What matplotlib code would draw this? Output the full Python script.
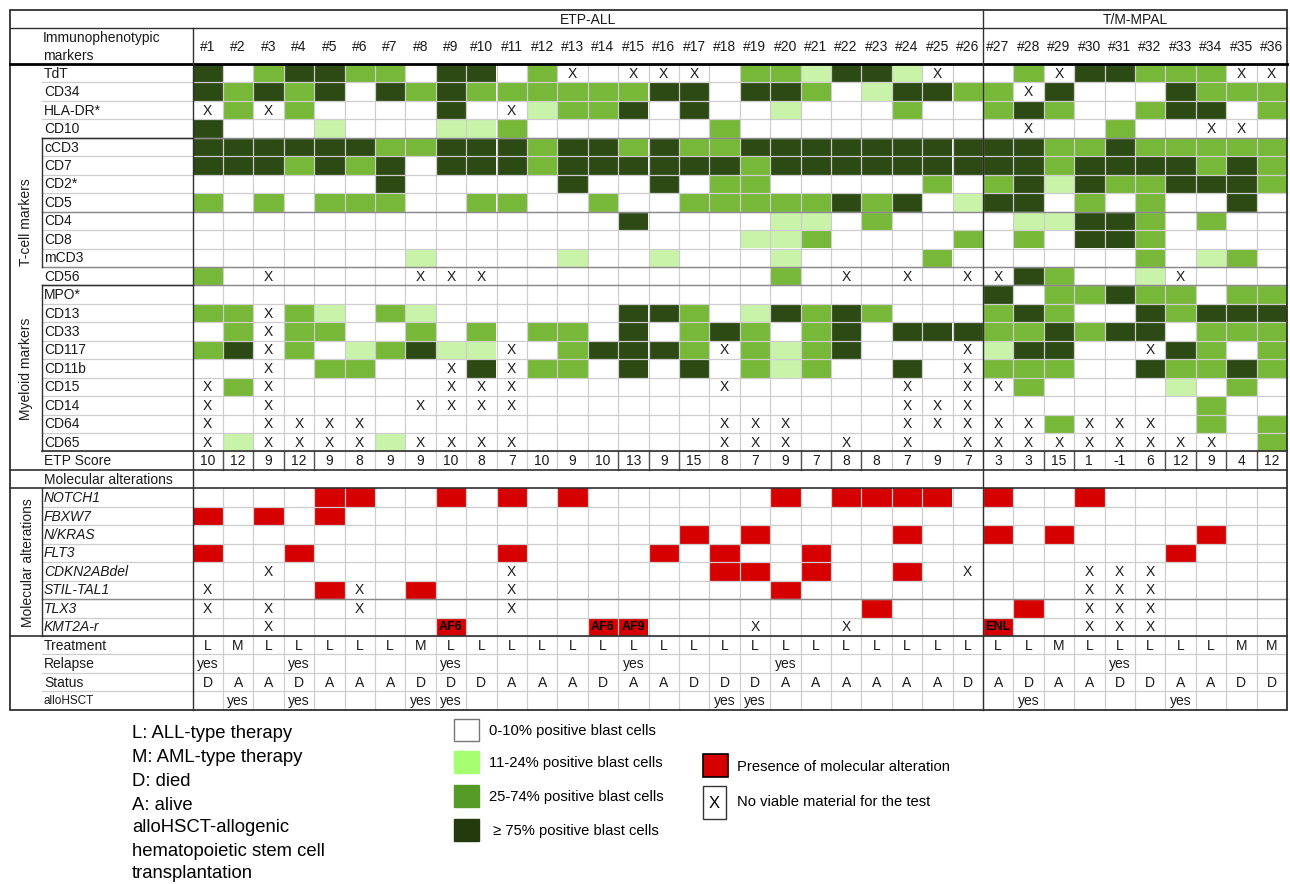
import matplotlib
matplotlib.use("Agg")
import matplotlib.pyplot as plt
from matplotlib.patches import Rectangle

# ------------------------------------------------------------------ data
patients = [f"#{i}" for i in range(1, 37)]
group_names = ["ETP-ALL", "T/M-MPAL"]
group_sizes = [26, 10]

marker_names = ["TdT", "CD34", "HLA-DR*", "CD10", "cCD3", "CD7", "CD2*", "CD5",
                "CD4", "CD8", "mCD3", "CD56", "MPO*", "CD13", "CD33", "CD117",
                "CD11b", "CD15", "CD14", "CD64", "CD65"]
# 0: 0-10%, 1: 11-24%, 2: 25-74%, 3: >=75% positive blast cells, X: no viable material
marker_levels = [
    "3023322033" "02X0XXX022" "1331X002X3" "3222XX",  # TdT
    "3232303232" "2222233033" "2013322X30" "003222",  # CD34
    "X2X2000030" "X122303001" "0002002320" "023302",  # HLA-DR*
    "3000100011" "2000000200" "0000000X00" "200XX0",  # CD10
    "3333332233" "3233232233" "3333333322" "322222",  # cCD3
    "3332323033" "3233333323" "3333333323" "333232",  # CD7
    "0000003000" "0030030220" "0000202313" "223332",  # CD2*
    "2020222002" "2002002222" "2323013302" "020030",  # CD5
    "0000000000" "0000300001" "1020000113" "320200",  # CD4
    "0000000000" "0000000011" "2000020203" "320000",  # CD8
    "0000000100" "0010010001" "0000200000" "020120",  # mCD3
    "20X0000XXX" "0000000002" "0X0X0XX320" "01X000",  # CD56
    "0000000000" "0000000000" "0000003022" "322022",  # MPO*
    "22X2102100" "0000332013" "2320002320" "032333",  # CD13
    "02X2200202" "0220302320" "2303332232" "330222",  # CD33
    "23X2012311" "X023332X21" "23000X1330" "0X3202",  # CD117
    "00X02200X3" "X220303021" "20030X2220" "032232",  # CD11b
    "X2X00000XX" "X000000X00" "000X0XX200" "001020",  # CD15
    "X0X0000XXX" "X000000000" "000XXX0000" "000200",  # CD14
    "X0XXXX0000" "0000000XXX" "000XXXXX2X" "XX0202",  # CD64
    "X1XXXX1XXX" "X000000XXX" "0X0X0XXXXX" "XXXX02",  # CD65
]
etp_score = [10, 12, 9, 12, 9, 8, 9, 9, 10, 8, 7, 10, 9, 10, 13, 9, 15, 8,
             7, 9, 7, 8, 8, 7, 9, 7, 3, 3, 15, 1, -1, 6, 12, 9, 4, 12]

molecular_names = ["NOTCH1", "FBXW7", "N/KRAS", "FLT3", "CDKN2ABdel",
                   "STIL-TAL1", "TLX3"]
# 1: alteration present, X: no viable material
molecular_hits = [
    "0000110010" "1010000001" "0111101001" "000000",  # NOTCH1
    "1010100000" "0000000000" "0000000000" "000000",  # FBXW7
    "0000000000" "0000001010" "0001001010" "000100",  # N/KRAS
    "1001000000" "1000010100" "1000000000" "001000",  # FLT3
    "00X0000000" "X000000110" "10010X000X" "XX0000",  # CDKN2ABdel
    "X0001X0100" "X000000001" "000000000X" "XX0000",  # STIL-TAL1
    "X0X00X0000" "X000000000" "001000010X" "XX0000",  # TLX3
]
kmt2a_name = "KMT2A-r"
kmt2a_status = ["", "", "X", "", "", "", "", "", "AF6", "", "", "", "", "AF6",
                "AF9", "", "", "", "X", "", "", "X", "", "", "", "", "ENL", "",
                "", "X", "X", "X", "", "", "", ""]

clinical_names = ["Treatment", "Relapse", "Status", "alloHSCT"]
treatment = list("LMLLLLLM" + "L" * 20 + "M" + "L" * 5 + "MM")
relapse_cols = [1, 4, 9, 15, 20, 31]
status = list("DAADAAAD" "DDAAADAADD" "DAAAAAAD" "ADAADDAADD")
allohsct_cols = [2, 4, 8, 9, 18, 19, 28, 33]

abbrev_notes = ["L: ALL-type therapy", "M: AML-type therapy", "D: died",
                "A: alive", "alloHSCT-allogenic", "hematopoietic stem cell",
                "transplantation"]
level_labels = ["0-10% positive blast cells", "11-24% positive blast cells",
                "25-74% positive blast cells", " \u2265 75% positive blast cells"]
other_labels = ["Presence of molecular alteration",
                "No viable material for the test"]

# ------------------------------------------------------------------ style
FONT = ["Liberation Sans", "DejaVu Sans"]
plt.rcParams["font.family"] = FONT
cell_colors = {"0": "white", "1": "#c9f3a8", "2": "#78b838", "3": "#2d4a15"}
legend_colors = ["white", "#a6ff70", "#559a26", "#233a0e"]
RED = "#d70000"
GRID = "#cdcdcd"
DARK = "#303030"
LEG_FS = 10.6

X_LEFT, X_GROUP, X_DATA, CW = 10, 42, 192.5, 30.4
Y_TOP, Y_HDR, Y_BODY, RH = 10, 28, 64, 18.45
N = len(patients)
X_RIGHT = X_DATA + N * CW

n_mark = len(marker_names)
row_etp = n_mark
row_molhdr = n_mark + 1
row_mol0 = n_mark + 2
n_mol = len(molecular_names) + 1
row_clin0 = row_mol0 + n_mol
n_rows = row_clin0 + len(clinical_names)
Y_BOTTOM = Y_BODY + n_rows * RH


def cx(j):
    return X_DATA + j * CW


def ry(i):
    return Y_BODY + i * RH


fig = plt.figure(figsize=(12.9, 8.84), dpi=100)
ax = fig.add_axes([0, 0, 1, 1])
ax.set_xlim(0, 1290)
ax.set_ylim(884, 0)
ax.axis("off")

TXT = dict(fontsize=10, color="#1a1a1a")


def cell_text(i, j, s, **kw):
    d = dict(TXT)
    d.update(kw)
    ax.text(cx(j) + CW / 2, ry(i) + RH / 2 + 0.5, s, ha="center", va="center", **d)


# marker cells
for i, codes in enumerate(marker_levels):
    for j, c in enumerate(codes):
        if c == "X":
            cell_text(i, j, "X")
        elif c != "0":
            ax.add_patch(Rectangle((cx(j), ry(i)), CW, RH, facecolor=cell_colors[c],
                                   edgecolor="none", zorder=1))
# ETP score
for j, v in enumerate(etp_score):
    cell_text(row_etp, j, str(v))
# molecular cells
for k, codes in enumerate(molecular_hits):
    i = row_mol0 + k
    for j, c in enumerate(codes):
        if c == "X":
            cell_text(i, j, "X")
        elif c == "1":
            ax.add_patch(Rectangle((cx(j), ry(i)), CW, RH, facecolor=RED,
                                   edgecolor="none", zorder=1))
i_k = row_mol0 + len(molecular_names)
for j, s in enumerate(kmt2a_status):
    if s == "X":
        cell_text(i_k, j, "X")
    elif s:
        ax.add_patch(Rectangle((cx(j), ry(i_k)), CW, RH, facecolor=RED,
                               edgecolor="none", zorder=1))
        cell_text(i_k, j, s, fontsize=9, fontweight="bold", color="black", zorder=4)
# clinical rows
for j in range(N):
    cell_text(row_clin0, j, treatment[j])
    cell_text(row_clin0 + 2, j, status[j])
for c in relapse_cols:
    cell_text(row_clin0 + 1, c - 1, "yes")
for c in allohsct_cols:
    cell_text(row_clin0 + 3, c - 1, "yes")

# ------------------------------------------------------------------ grid
grid_rows = list(range(1, row_etp + 1)) + list(range(row_mol0 + 1, n_rows))
for i in grid_rows:
    ax.plot([X_GROUP, X_RIGHT], [ry(i), ry(i)], color=GRID, lw=0.9, zorder=2)
for j in range(1, N):
    ax.plot([cx(j), cx(j)], [ry(0), ry(row_etp + 1)], color=GRID, lw=0.9, zorder=2)
    ax.plot([cx(j), cx(j)], [ry(row_mol0), Y_BOTTOM], color=GRID, lw=0.9, zorder=2)
# medium separators
for i in [4, 8, 11, 12, row_mol0 + 6]:
    ax.plot([X_GROUP, X_RIGHT], [ry(i), ry(i)], color="#8a8a8a", lw=1.0, zorder=2.5)
# ETP score row dividers
for b in [1, 2, 3, 4, 14, 15, 16, 20, 21, 22, 28, 29, 32, 33, 34, 35]:
    ax.plot([cx(b), cx(b)], [ry(row_etp), ry(row_etp + 1)], color="#555555", lw=1.0, zorder=2.6)
# strong lines
ax.add_patch(Rectangle((X_LEFT, Y_TOP), X_RIGHT - X_LEFT, Y_BOTTOM - Y_TOP,
                       facecolor="none", edgecolor=DARK, lw=1.3, zorder=3))
ax.plot([X_LEFT, X_RIGHT], [Y_HDR, Y_HDR], color=DARK, lw=1.0, zorder=3)
ax.plot([X_LEFT, X_RIGHT], [Y_BODY, Y_BODY], color="black", lw=2.0, zorder=3)
ax.plot([X_DATA, X_DATA], [Y_HDR, Y_BOTTOM], color=DARK, lw=1.0, zorder=3)
xg = cx(group_sizes[0])
ax.plot([xg, xg], [Y_TOP, Y_BOTTOM], color=DARK, lw=1.0, zorder=3)
for i in [row_etp + 1, row_molhdr + 1, row_clin0]:
    ax.plot([X_LEFT, X_RIGHT], [ry(i), ry(i)], color=DARK, lw=1.2, zorder=3)
ax.plot([X_GROUP, X_RIGHT], [ry(row_etp), ry(row_etp)], color=DARK, lw=1.2, zorder=3)
ax.plot([X_GROUP, X_DATA], [ry(4), ry(4)], color=DARK, lw=1.0, zorder=3)
ax.plot([X_GROUP, X_DATA], [ry(12), ry(12)], color=DARK, lw=1.0, zorder=3)
for a, b in [(4, 11), (12, row_etp), (row_mol0, row_clin0)]:
    ax.plot([X_GROUP, X_GROUP], [ry(a), ry(b)], color=DARK, lw=1.0, zorder=3)

# ------------------------------------------------------------------ headers
x0 = X_DATA
for name, size in zip(group_names, group_sizes):
    ax.text(x0 + size * CW / 2, (Y_TOP + Y_HDR) / 2 + 0.5, name, ha="center",
            va="center", **TXT)
    x0 += size * CW
for j, p in enumerate(patients):
    ax.text(cx(j) + CW / 2, (Y_HDR + Y_BODY) / 2 + 1, p, ha="center", va="center", **TXT)
ax.text(X_GROUP + 1, 38, "Immunophenotypic", ha="left", va="center", **TXT)
ax.text(X_GROUP + 1, 55.5, "markers", ha="left", va="center", **TXT)

# row labels
for i, m in enumerate(marker_names):
    ax.text(X_GROUP + 2, ry(i) + RH / 2 + 0.5, m, ha="left", va="center", **TXT)
ax.text(X_GROUP + 2, ry(row_etp) + RH / 2 + 0.5, "ETP Score", ha="left", va="center", **TXT)
ax.text(X_GROUP + 2, ry(row_molhdr) + RH / 2 + 0.5, "Molecular alterations",
        ha="left", va="center", **TXT)
for k, m in enumerate(molecular_names + [kmt2a_name]):
    ax.text(X_GROUP + 2, ry(row_mol0 + k) + RH / 2 + 0.5, m, ha="left", va="center",
            style="italic", **TXT)
for k, m in enumerate(clinical_names):
    ax.text(X_GROUP + 2, ry(row_clin0 + k) + RH / 2 + 0.5, m, ha="left", va="center",
            fontsize=10 if k < 3 else 8.5, color="#1a1a1a")

# group labels
ax.text(26, ry(11) - 1, "T-cell markers", rotation=90, ha="center", va="bottom", **TXT)
ax.text(26, (ry(12) + ry(row_etp)) / 2, "Myeloid markers", rotation=90, ha="center",
        va="center", **TXT)
ax.text(28, (ry(row_mol0) + ry(row_clin0)) / 2, "Molecular alterations", rotation=90,
        ha="center", va="center", **TXT)

# ------------------------------------------------------------------ legend
for k, s in enumerate(abbrev_notes):
    ax.text(132, [734, 758, 781, 805, 828, 852, 874][k], s, ha="left", va="center",
            fontsize=13.3, color="black")
for k, (lab, col) in enumerate(zip(level_labels, legend_colors)):
    y = [719, 751, 785, 819][k]
    ax.add_patch(Rectangle((454, y), 25, 22, facecolor=col,
                           edgecolor="#777777" if k == 0 else col, lw=1.0))
    ax.text(489, y + 12, lab, ha="left", va="center", fontsize=LEG_FS, color="black")
ax.add_patch(Rectangle((703, 754), 25, 23, facecolor=RED, edgecolor="black", lw=1.2))
ax.text(737, 767, other_labels[0], ha="left", va="center", fontsize=LEG_FS, color="black")
ax.add_patch(Rectangle((703, 786), 23, 33, facecolor="white", edgecolor="#333333", lw=1.0))
ax.text(714.5, 803, "X", ha="center", va="center", fontsize=12, color="black")
ax.text(737, 802, other_labels[1], ha="left", va="center", fontsize=LEG_FS, color="black")

fig.savefig("out.png", dpi=100, facecolor="white")
